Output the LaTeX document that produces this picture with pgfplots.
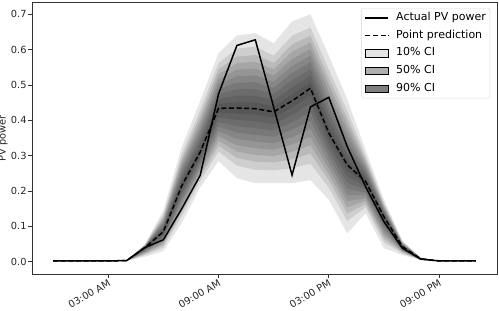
\documentclass[border=0pt]{standalone}
\usepackage{pgfplots}
\pgfplotsset{compat=1.18}
\usepackage{pgfplotstable}
\usepgfplotslibrary{fillbetween}
\usepackage{fontspec}
\setmainfont{DejaVu Sans}

\pgfplotstableread{
h act pred up lo
0 0.002 0.002 0.002 0.002
1 0.002 0.002 0.002 0.002
2 0.002 0.002 0.002 0.002
3 0.002 0.002 0.002 0.002
4 0.003 0.003 0.004 0.002
5 0.040 0.040 0.050 0.014
6 0.062 0.085 0.145 0.030
7 0.150 0.215 0.325 0.110
8 0.244 0.310 0.455 0.210
9 0.475 0.434 0.590 0.285
10 0.612 0.435 0.640 0.236
11 0.628 0.433 0.647 0.222
12 0.437 0.424 0.618 0.222
13 0.245 0.455 0.680 0.222
14 0.438 0.491 0.700 0.231
15 0.465 0.364 0.583 0.175
16 0.326 0.274 0.460 0.080
17 0.212 0.227 0.316 0.137
18 0.113 0.127 0.175 0.038
19 0.038 0.043 0.060 0.019
20 0.007 0.008 0.012 0.004
21 0.002 0.002 0.002 0.002
22 0.002 0.002 0.002 0.002
23 0.002 0.002 0.002 0.002
}\pvdata

\pgfplotsset{
  lineleg/.style={legend image code/.code={\draw[##1] (0pt,0pt) -- (23pt,0pt);}},
  boxleg/.style={legend image code/.code={\fill[##1, sharp corners] (0pt,-3.6pt) rectangle (23pt,3.6pt);}},
}

\begin{document}
\begin{tikzpicture}
\begin{axis}[
  at={(32pt,37pt)}, anchor=south west,
  scale only axis, width=465pt, height=272pt,
  xmin=-1.15, xmax=24.15, ymin=-0.035, ymax=0.735,
  xtick={3,9,15,21},
  xticklabels={03:00 AM,09:00 AM,03:00 PM,09:00 PM},
  ytick={0,0.1,0.2,0.3,0.4,0.5,0.6,0.7},
  yticklabel style={/pgf/number format/fixed, /pgf/number format/fixed zerofill, /pgf/number format/precision=1, inner sep=1.5pt},
  /pgf/number format/assume math mode=true,
  tick label style={font=\fontsize{9.8}{11.5}\selectfont, text=black!85},
  xticklabel style={rotate=30, anchor=north east, inner sep=1.2pt, yshift=0.5pt},
  xtick pos=lower, ytick pos=left,
  tick align=outside, major tick length=3.8pt,
  tick style={black!80, line width=0.7pt},
  axis line style={black!80, line width=0.7pt},
  legend cell align=left,
  legend style={at={(1,1)}, anchor=north east, xshift=-7pt, yshift=-6pt,
    draw=black!15, rounded corners=2pt, fill=white,
    font=\fontsize{11}{13}\selectfont, inner xsep=3pt, inner ysep=3.5pt,
    row sep=5.1pt, column sep=6pt,
    nodes={inner sep=1pt, text height=8pt, text depth=2.5pt}},
]
\addlegendimage{lineleg, black, line width=1.5pt}
\addlegendentry{Actual PV power}
\addlegendimage{lineleg, black, line width=1.5pt, dash pattern=on 5pt off 2.6pt}
\addlegendentry{Point prediction}
\addlegendimage{boxleg, fill=black!11}
\addlegendentry{10\% CI}
\addlegendimage{boxleg, fill=black!31}
\addlegendentry{50\% CI}
\addlegendimage{boxleg, fill=black!50}
\addlegendentry{90\% CI}

\pgfplotsinvokeforeach{1,0.82,0.71,0.62,0.53,0.44,0.35,0.26,0.17,0.08}{
  \addplot[draw=none, name path=u#1, forget plot] table[x=h, y expr=\thisrow{pred}+#1*(\thisrow{up}-\thisrow{pred})]{\pvdata};
  \addplot[draw=none, name path=l#1, forget plot] table[x=h, y expr=\thisrow{pred}-#1*(\thisrow{pred}-\thisrow{lo})]{\pvdata};
  \addplot[fill=black, fill opacity=0.1, draw=none, forget plot] fill between[of=u#1 and l#1];
}

\addplot[black, line width=1.5pt, forget plot] table[x=h, y=act]{\pvdata};
\addplot[black, line width=1.5pt, dash pattern=on 5pt off 2.6pt, forget plot] table[x=h, y=pred]{\pvdata};
\end{axis}
\node[rotate=90, font=\fontsize{9.8}{11.5}\selectfont, text=black!85] at (3pt,173pt) {PV power};
\pgfresetboundingbox
\path[use as bounding box] (0,0) rectangle (499pt,311pt);
\end{tikzpicture}
\end{document}
